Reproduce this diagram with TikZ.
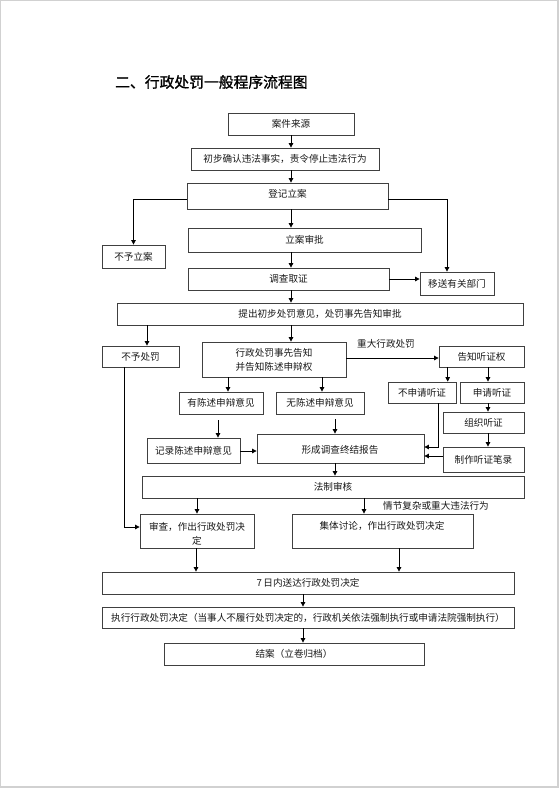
\documentclass[tikz,border=0pt]{standalone}
\usepackage{fontspec}
\newfontfamily\cjk{Noto Sans CJK SC}
\newfontfamily\cjkb[FakeBold=1.2]{Noto Sans CJK SC}
\usetikzlibrary{arrows.meta}
\begin{document}
\begin{tikzpicture}[x=1pt,y=-1pt,
  box/.style={draw=black!75,line width=0.8pt,inner sep=0pt,font=\cjk\fontsize{9.6}{14}\selectfont,text=black!90},
  txt/.style={inner sep=0pt,font=\cjk\fontsize{9.6}{14}\selectfont,text=black!90},
  arr/.style={draw=black,line width=0.8pt,-{Triangle[length=4.5pt,width=4.5pt]}}]
\useasboundingbox (0,0) rectangle (559,788);
\fill[black!18] (0,0) rectangle (559,788);
\fill[white] (1,1) rectangle (557,786);
\node[anchor=west,inner sep=0pt,font=\cjkb\fontsize{14.8}{16}\selectfont] (title) at (115,82) {二、行政处罚一般程序流程图};
\newcommand\bx[6]{\node[box,minimum width={(#4-#2)*1pt},minimum height={(#5-#3)*1pt}] (#1) at ({(#2+#4)/2},{(#3+#5)/2}) {#6};}
\bx{a1}{228}{113}{354}{135}{案件来源}
\bx{a2}{191}{148}{379}{170}{初步确认违法事实，责令停止违法行为}
\bx{a3}{187}{183}{388}{209}{}
\node[txt] (a3t) at (287.5,194) {登记立案};
\bx{n1}{102}{245}{165}{268}{不予立案}
\bx{a4}{188}{228}{421}{252}{立案审批}
\bx{a5}{188}{268}{389}{290}{调查取证}
\bx{m1}{420}{272}{494}{295}{移送有关部门}
\bx{a6}{117}{303}{523}{325}{提出初步处罚意见，处罚事先告知审批}
\bx{n2}{102}{346}{179}{367}{不予处罚}
\bx{a7}{202}{342}{346}{377}{}
\node[txt,align=center] (a7t) at (274,360) {行政处罚事先告知\\并告知陈述申辩权};
\bx{h1}{439}{346}{524}{367}{告知听证权}
\bx{h2}{388}{382}{456}{403}{不申请听证}
\bx{h3}{460}{382}{524}{403}{申请听证}
\bx{h4}{443}{412}{524}{433}{组织听证}
\bx{h5}{443}{447}{524}{472}{制作听证笔录}
\bx{b1}{179}{392}{263}{414}{有陈述申辩意见}
\bx{b2}{276}{392}{364}{414}{无陈述申辩意见}
\bx{b3}{147}{438}{240}{463}{记录陈述申辩意见}
\bx{b4}{257}{434}{424}{463}{}
\node[txt] (b4t) at (340,450) {形成调查终结报告};
\bx{c1}{142}{476}{524}{498}{法制审核}
\bx{c2}{140}{514}{254}{548}{}
\node[txt,align=center] (c2t) at (197,533.5) {审查，作出行政处罚决\\定};
\bx{c3}{292}{514}{473}{548}{}
\node[txt] (c3t) at (382,526) {集体讨论，作出行政处罚决定};
\bx{d1}{102}{572}{514}{594}{7\,日内送达行政处罚决定}
\bx{d2}{102}{607}{514}{628}{执行行政处罚决定（当事人不履行处罚决定的，行政机关依法强制执行或申请法院强制执行）}
\bx{d3}{164}{643}{424}{665}{结案（立卷归档）}
\node[txt] (l1) at (386,344) {重大行政处罚};
\node[txt] (l2) at (436,506) {情节复杂或重大违法行为};
% spine
\coordinate (sp) at (291,0);
\draw[arr] (sp |- a1.south) -- (sp |- a2.north);
\draw[arr] (sp |- a2.south) -- (sp |- a3.north);
\draw[arr] (sp |- a3.south) -- (sp |- a4.north);
\draw[arr] (sp |- a4.south) -- (sp |- a5.north);
\draw[arr] (sp |- a5.south) -- (sp |- a6.north);
\draw[arr] (sp |- a6.south) -- (sp |- a7.north);
\draw[arr] (a3.west |- 0,199) -| (n1.north);
\draw[arr] (a3.east |- 0,199) -| (m1.north -| 447,0);
\draw[arr] (a5.east |- 0,279) -- (m1.west |- 0,279);
\draw[arr] (a6.south -| 147,0) -- (n2.north -| 147,0);
\draw[arr] (n2.south -| 124,0) |- (c2.west |- 0,527);
\draw[arr] (a7.east |- 0,358) -- (h1.west |- 0,358);
\draw[arr] (h1.south -| 447.7,0) -- (h2.north -| 447.7,0);
\draw[arr] (h1.south -| 488,0) -- (h3.north -| 488,0);
\draw[arr] (h3.south -| 488,0) -- (h4.north -| 488,0);
\draw[arr] (h4.south -| 488,0) -- (h5.north -| 488,0);
\draw[arr] (a7.south -| 228,0) -- (b1.north -| 228,0);
\draw[arr] (a7.south -| 322,0) -- (b2.north -| 322,0);
\draw[arr] (218,420) -- (b3.north -| 218,0);
\draw[arr] (335,419) -- (b4.north -| 335,0);
\draw[arr] (b3.east |- 0,451) -- (b4.west |- 0,451);
\draw[arr] (h2.south -| 438,0) |- (b4.east |- 0,447);
\draw[arr] (h5.west |- 0,456) -- (b4.east |- 0,456);
\draw[arr] (b4.south -| 335,0) -- (c1.north -| 335,0);
\draw[arr] (c1.south -| 197,0) -- (c2.north -| 197,0);
\draw[arr] (c1.south -| 364,0) -- (c3.north -| 364,0);
\draw[arr] (c2.south -| 196,0) -- (d1.north -| 196,0);
\draw[arr] (c3.south -| 399,0) -- (d1.north -| 399,0);
\draw[arr] (d1.south -| 303,0) -- (d2.north -| 303,0);
\draw[arr] (d2.south -| 303,0) -- (d3.north -| 303,0);
\end{tikzpicture}
\end{document}
